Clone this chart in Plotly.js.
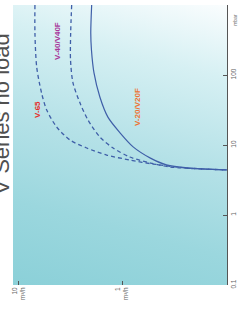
<!DOCTYPE html>
<html>
<head>
<meta charset="utf-8">
<script src="https://cdn.plot.ly/plotly-3.0.1.min.js"></script>
<style>
html,body{margin:0;padding:0;background:#ffffff;}
#wrap{position:relative;width:243px;height:311px;overflow:hidden;}
#bg{position:absolute;left:13px;top:5px;width:214px;height:280px;
 background:linear-gradient(195deg,#fafdfe 0%,#d6f0f3 22%,#b4e1e7 50%,#9bd7de 75%,#8bd0d8 100%);}
#chart{position:absolute;left:0;top:0;width:243px;height:311px;}
</style>
</head>
<body>
<div id="wrap"><div id="bg"></div><div id="chart"></div></div>
<script>
// Pressure (mbar, right axis) vs flow (m³/h, bottom axis) — chart shown rotated
const pV20 = [1000, 400, 230, 107, 48.5, 25, 14.8, 9.4, 6.5, 5.2, 4.7, 4.4];
const qV20 = [1.97, 2.01, 1.98, 1.87, 1.64, 1.37, 1.04, 0.78, 0.53, 0.37, 0.23, 0.096];

const pV40 = [1000, 400, 164, 77, 40, 22.8, 13, 9.06, 6.74, 5.53, 4.85, 4.4];
const qV40 = [3.08, 3.15, 3.16, 2.99, 2.56, 2.14, 1.64, 1.22, 0.84, 0.53, 0.34, 0.096];

const pV65 = [1000, 400, 130, 55, 31.6, 18.1, 11.8, 9.06, 7.19, 6.1, 5.35, 4.69, 4.4];
const qV65 = [7.0, 7.0, 6.73, 6.03, 5.38, 4.31, 3.2, 2.2, 1.41, 0.84, 0.5, 0.234, 0.096];

const seriesNames = ["V-65", "V-40/V40F", "V-20/V20F"];
const labelQ = [6.55, 4.27, 0.715];
const labelP = [32.7, 306, 34.9];

const pTicks = [0.1, 1, 10, 100, 1000];
const pTickText = ["0.1", "1", "10", "100", "1000"];
const qTicks = [10, 1];
const qTickText = ["10<br>m³/h", "1<br>m³/h"];

const lineColor = "#3f5fa8";
const labelColors = ["#e5302b", "#a8379a", "#ee7433"];

const traces = [
  {x: qV65, y: pV65, mode: "lines", line: {color: lineColor, width: 1.3, dash: "4px,3px", shape: "spline", smoothing: 0.8}, name: seriesNames[0]},
  {x: qV40, y: pV40, mode: "lines", line: {color: lineColor, width: 1.3, dash: "4px,3px", shape: "spline", smoothing: 0.8}, name: seriesNames[1]},
  {x: qV20, y: pV20, mode: "lines", line: {color: lineColor, width: 1.2, shape: "spline", smoothing: 0.8}, name: seriesNames[2]}
];

const annotations = seriesNames.map((n, i) => ({
  x: Math.log10(labelQ[i]), y: Math.log10(labelP[i]), xref: "x", yref: "y",
  text: "<b>" + n + "</b>", showarrow: false, textangle: -90,
  font: {family: "Liberation Sans, Arial, sans-serif", size: 8, color: labelColors[i]}
}));
annotations.push({
  x: -0.054, y: 0.61, xref: "paper", yref: "paper", text: "V Series no load",
  showarrow: false, textangle: -90, xanchor: "center", yanchor: "middle",
  font: {family: "Liberation Sans, Arial, sans-serif", size: 22, color: "#505050"}
});
annotations.push({
  x: 1.06, y: 0.975, xref: "paper", yref: "paper", text: "mbar",
  showarrow: false, textangle: -90,
  font: {family: "Liberation Sans, Arial, sans-serif", size: 5, color: "#777777"}
});

const layout = {
  width: 243, height: 311,
  margin: {l: 13, r: 16, t: 5, b: 26, pad: 0},
  paper_bgcolor: "rgba(0,0,0,0)", plot_bgcolor: "rgba(0,0,0,0)",
  showlegend: false, hovermode: false,
  xaxis: {type: "log", range: [1.058, -1.019], showgrid: false, zeroline: false, showline: false,
    tickvals: qTicks, ticktext: qTickText, ticks: "inside", ticklen: 4, tickcolor: "#555",
    tickangle: -90, tickfont: {family: "Liberation Sans, Arial, sans-serif", size: 6.5, color: "#666"}},
  yaxis: {type: "log", range: [-1, 3], side: "right", showgrid: false, zeroline: false,
    showline: true, linecolor: "#555", linewidth: 1,
    tickvals: pTicks, ticktext: pTickText, ticks: "inside", ticklen: 4, tickcolor: "#555",
    tickangle: -90, tickfont: {family: "Liberation Sans, Arial, sans-serif", size: 6.5, color: "#666"}},
  annotations: annotations
};

Plotly.newPlot("chart", traces, layout, {displayModeBar: false, staticPlot: true});
</script>
</body>
</html>
